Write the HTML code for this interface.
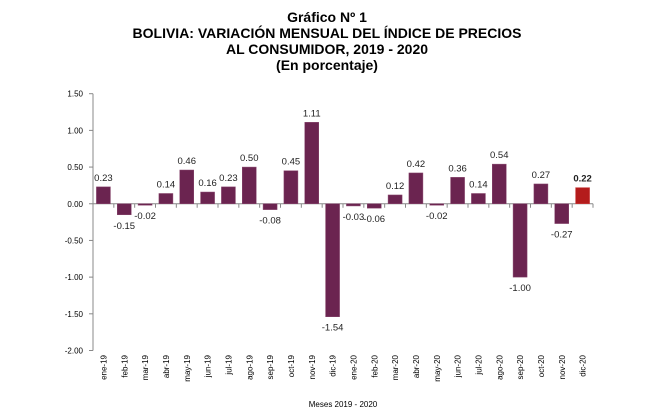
<!DOCTYPE html>
<html><head><meta charset="utf-8"><style>
body{margin:0;background:#fff;}
svg{display:block;font-family:"Liberation Sans",Arial,sans-serif;}
</style></head><body>
<svg id="chart" width="650" height="418">
<g font-weight="bold" font-size="14" text-anchor="middle" fill="#000">
<text x="327" y="22">Gráfico Nº 1</text>
<text x="327" y="38">BOLIVIA: VARIACIÓN MENSUAL DEL ÍNDICE DE PRECIOS</text>
<text x="327" y="54">AL CONSUMIDOR, 2019 - 2020</text>
<text x="327" y="70">(En porcentaje)</text>
</g>
<g id="yaxis"></g>
<g id="xaxis"></g>
<g id="bars"></g>
<text x="343" y="407" font-size="8" text-anchor="middle">Meses 2019 - 2020</text>
</svg>
<script>
const categories=["ene-19","feb-19","mar-19","abr-19","may-19","jun-19","jul-19","ago-19","sep-19","oct-19","nov-19","dic-19","ene-20","feb-20","mar-20","abr-20","may-20","jun-20","jul-20","ago-20","sep-20","oct-20","nov-20","dic-20"];
const values=[0.23,-0.15,-0.02,0.14,0.46,0.16,0.23,0.50,-0.08,0.45,1.11,-1.54,-0.03,-0.06,0.12,0.42,-0.02,0.36,0.14,0.54,-1.00,0.27,-0.27,0.22];
const yTicks=[1.5,1.0,0.5,0,-0.5,-1.0,-1.5,-2.0];
const NS="http://www.w3.org/2000/svg";
const L=93,R=593,T=93.7,B=350.5,yMax=1.5,yMin=-2.0;
const y=v=>T+(yMax-v)/(yMax-yMin)*(B-T);
const cw=(R-L)/categories.length;
const x=i=>L+cw*i;
function mk(t,a,p){const e=document.createElementNS(NS,t);for(const k in a)e.setAttribute(k,a[k]);p.appendChild(e);return e;}
const ya=document.getElementById('yaxis'),xa=document.getElementById('xaxis'),bg=document.getElementById('bars');
mk('line',{x1:L,x2:L,y1:T,y2:B,stroke:'#888','stroke-width':1},ya);
yTicks.forEach(v=>{
 mk('line',{x1:L-4,x2:L,y1:y(v),y2:y(v),stroke:'#888'},ya);
 const t=mk('text',{x:L-10,y:y(v)+3,'font-size':8,'text-anchor':'end',fill:'#000'},ya);
 
 
 t.textContent=v.toFixed(2);
});
const z=y(0);
mk('line',{x1:L,x2:R,y1:z,y2:z,stroke:'#888'},xa);
for(let i=0;i<=categories.length;i++){mk('line',{x1:x(i),x2:x(i),y1:z,y2:z+4,stroke:'#888'},xa);}
categories.forEach((c,i)=>{
 const cx=x(i)+cw/2;
 const t=mk('text',{x:0,y:0,'font-size':8,'text-anchor':'end',transform:`translate(${cx+3},355) rotate(-90)`},xa);
 
 
 t.textContent=c;
 const v=values[i],last=i===categories.length-1;
 const r=mk('rect',{x:cx-7,width:14,y:Math.min(y(v),z),height:Math.abs(y(v)-z),fill:last?'#b41c1c':'#6b2450',stroke:last?'#c44':'#8a4a70','stroke-width':0.5},bg);
 
 
 const lb=mk('text',{x:cx,y:v>=0?y(v)-6:y(v)+14,'font-size':9.5,'text-anchor':'middle',fill:'#222','font-weight':last?'bold':'normal'},bg);
 
 
 lb.textContent=v.toFixed(2);
});
</script>
</body></html>
